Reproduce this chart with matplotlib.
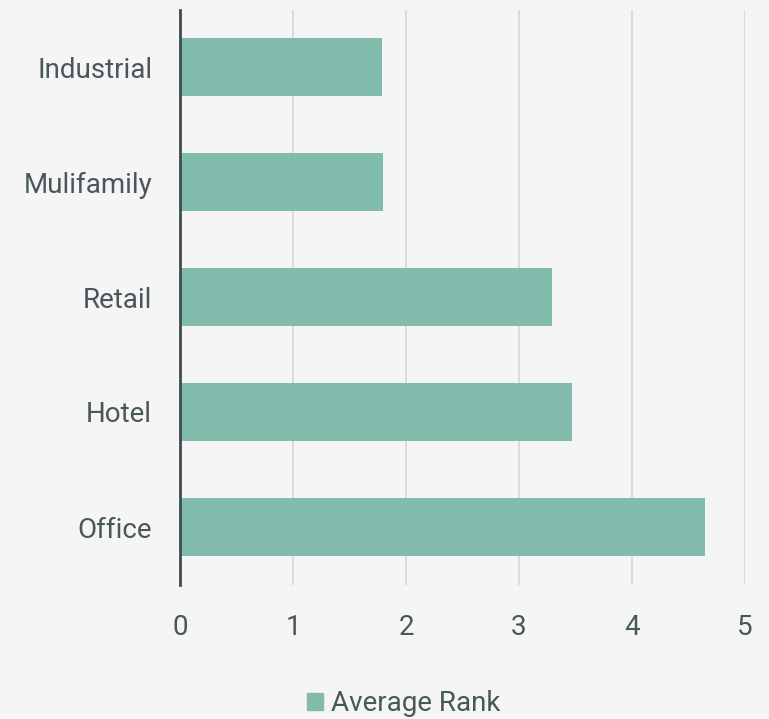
import matplotlib.pyplot as plt
from matplotlib.patches import Patch

categories = ['Industrial', 'Mulifamily', 'Retail', 'Hotel', 'Office']
average_rank = [1.79, 1.80, 3.29, 3.47, 4.65]
x_ticks = [0, 1, 2, 3, 4, 5]

bg = '#f5f5f5'
bar_color = '#82bcad'
text_color = '#48575a'

plt.rcParams['font.family'] = ['Roboto', 'DejaVu Sans']

fig = plt.figure(figsize=(7.69, 7.19), dpi=100, facecolor=bg)
ax = fig.add_axes([180 / 769, 1 - 584.5 / 719, 565 / 769, 575 / 719])
ax.set_facecolor(bg)

ax.barh(range(len(categories)), average_rank, height=0.5, color=bar_color, zorder=3)
ax.set_ylim(len(categories) - 0.5, -0.5)
ax.set_xlim(0, 5)
ax.set_yticks(range(len(categories)))
ax.set_yticklabels(categories)
ax.set_xticks(x_ticks)

ax.grid(axis='x', color='#d3d8da', linewidth=1.2, zorder=0)
for s in ['top', 'right', 'bottom']:
    ax.spines[s].set_visible(False)
ax.spines['left'].set_color('#3f4b4e')
ax.spines['left'].set_linewidth(2)
ax.spines['left'].set_zorder(4)

ax.tick_params(axis='both', length=0, labelsize=20, colors=text_color)
ax.tick_params(axis='y', pad=20)
ax.tick_params(axis='x', pad=21)

fig.legend(handles=[Patch(color=bar_color)], labels=['Average Rank'],
           loc='center', bbox_to_anchor=(403.5 / 769, 1 - 703.5 / 719),
           frameon=False, fontsize=20, labelcolor=text_color,
           handlelength=0.58, handleheight=0.58, handletextpad=0.29,
           borderpad=0, borderaxespad=0)

fig.savefig('out.png', dpi=100, facecolor=bg)
